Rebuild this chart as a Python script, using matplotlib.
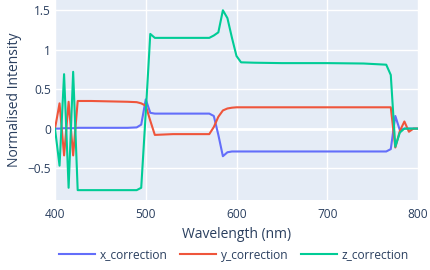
import matplotlib
matplotlib.use("Agg")
import matplotlib.pyplot as plt
from matplotlib.ticker import FuncFormatter

wavelength = [400, 405, 410, 415, 420, 425, 440, 460, 480, 490, 495,
              500, 505, 510, 530, 550, 570, 575, 580, 585, 590, 595,
              600, 605, 620, 650, 700, 740, 765, 770, 775, 780, 785,
              790, 795, 800]

x_correction = [0.0, 0.0, 0.005, 0.005, 0.005, 0.01, 0.01, 0.01, 0.01, 0.015, 0.05,
                0.37, 0.2, 0.19, 0.19, 0.19, 0.19, 0.16, -0.08, -0.35, -0.3, -0.29,
                -0.29, -0.29, -0.29, -0.29, -0.29, -0.29, -0.29, -0.26, 0.16, -0.02, 0.0,
                0.0, 0.0, 0.0]

y_correction = [0.0, 0.32, -0.34, 0.34, -0.34, 0.35, 0.35, 0.345, 0.34, 0.335, 0.32,
                0.29, 0.1, -0.08, -0.07, -0.07, -0.07, 0.02, 0.15, 0.23, 0.255, 0.265,
                0.27, 0.27, 0.27, 0.27, 0.27, 0.27, 0.27, 0.27, -0.24, -0.03, 0.09,
                -0.04, 0.0, 0.0]

z_correction = [0.0, -0.47, 0.69, -0.75, 0.72, -0.78, -0.78, -0.78, -0.78, -0.78, -0.75,
                0.2, 1.2, 1.15, 1.15, 1.15, 1.15, 1.18, 1.22, 1.5, 1.4, 1.15,
                0.92, 0.84, 0.835, 0.83, 0.83, 0.825, 0.81, 0.68, -0.23, -0.05, 0.0,
                0.0, 0.0, 0.0]

series_names = ["x_correction", "y_correction", "z_correction"]
x_ticks = [400, 500, 600, 700, 800]
y_ticks = [-0.5, 0, 0.5, 1, 1.5]

plt.rcParams['font.family'] = ['Open Sans', 'DejaVu Sans']
font_color = '#2a3f5f'
colors = ['#636efa', '#EF553B', '#00cc96']

W, H = 430, 270
fig = plt.figure(figsize=(W / 100, H / 100), dpi=100)
ax = fig.add_axes([55 / W, (H - 200) / H, (418 - 55) / W, 200 / H])
ax.set_facecolor('#E5ECF6')
for s in ax.spines.values():
    s.set_visible(False)

for name, vals, c in zip(series_names, [x_correction, y_correction, z_correction], colors):
    ax.plot(wavelength, vals, color=c, lw=1.5, label=name, zorder=3)

ax.set_xlim(400, 800)
ax.set_ylim(-0.905, 1.63)
ax.set_xticks(x_ticks)
ax.set_yticks(y_ticks)
ax.yaxis.set_major_formatter(FuncFormatter(lambda v, p: f"{v:g}".replace('-', '\u2212')))
ax.grid(True, color='white', lw=1, zorder=0)
ax.axhline(0, color='white', lw=2, zorder=1)
ax.tick_params(length=0, labelsize=8.6, colors=font_color, pad=6)
ax.tick_params(axis='y', pad=3)
ax.set_axisbelow(True)

ax.set_xlabel("Wavelength (nm)", fontsize=10, color=font_color, labelpad=4)
ax.set_ylabel("Normalised Intensity", fontsize=10, color=font_color, labelpad=4)

handles, labels = ax.get_legend_handles_labels()
fig.legend(handles, labels, loc='center', bbox_to_anchor=(234 / W, 1 - 255 / H),
           ncol=3, frameon=False, fontsize=8.6, labelcolor=font_color,
           handlelength=3.0, handletextpad=0.45, columnspacing=1.0)

fig.savefig("out.png", dpi=100)
